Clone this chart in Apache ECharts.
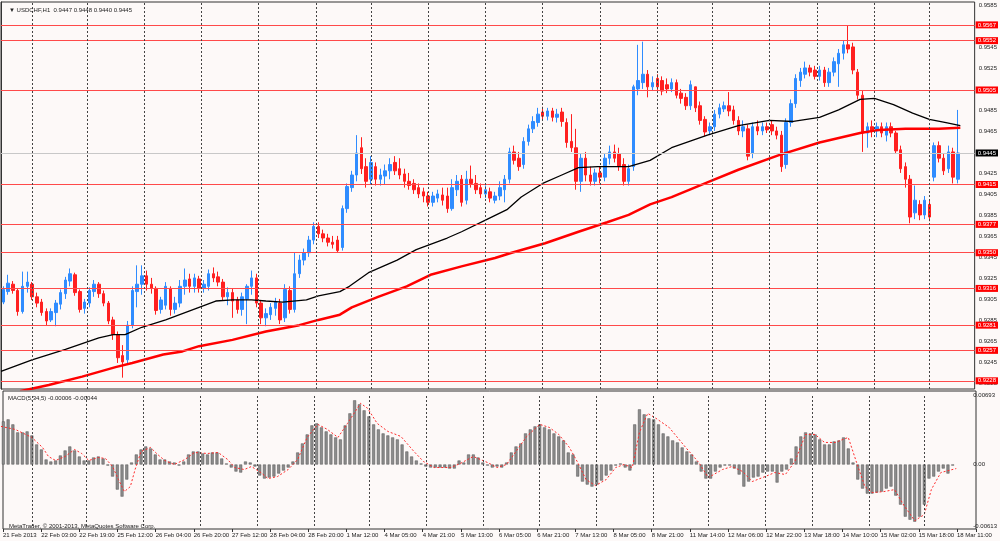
<!DOCTYPE html>
<html>
<head>
<meta charset="utf-8">
<script src="https://cdn.jsdelivr.net/npm/echarts@6.0.0/dist/echarts.min.js"></script>
<style>
html, body { margin: 0; padding: 0; background: #fdf9f8; }
#chart { width: 1000px; height: 541px; }
</style>
</head>
<body>
<div id="chart"></div>
<script>
// USDCHF H1, 21 Feb - 18 Mar 2013 (one candle = 2 hourly bars)
var timeLabels = ['21 Feb 2013', '22 Feb 03:00', '22 Feb 19:00', '25 Feb 12:00', '26 Feb 04:00', '26 Feb 20:00',
    '27 Feb 12:00', '28 Feb 04:00', '28 Feb 20:00', '1 Mar 12:00', '4 Mar 05:00', '4 Mar 21:00', '5 Mar 13:00',
    '6 Mar 05:00', '6 Mar 21:00', '7 Mar 13:00', '8 Mar 05:00', '8 Mar 21:00', '11 Mar 14:00', '12 Mar 06:00',
    '12 Mar 22:00', '13 Mar 18:00', '14 Mar 10:00', '15 Mar 02:00', '15 Mar 18:00', '18 Mar 11:00'];
// bar index where each day starts (vertical grid)
var dayStartBars = [13, 36, 60, 84, 108, 132, 155, 179, 203, 227, 251, 275, 298, 322, 342, 366, 389];
var lastBar = [0.9447, 0.9448, 0.9440, 0.9445];
var macdNow = [-0.00006, -0.00044];
var macdRange = [-0.00613, 0.00693];
var levels = [0.9567, 0.9552, 0.9505, 0.9415, 0.9377, 0.9350, 0.9316, 0.9281, 0.9257, 0.9228];

// [open, close, low, high]
var candles = [
    [0.9303,0.9315,0.9301,0.9318],[0.9313,0.9321,0.9310,0.9329],[0.9320,0.9314,0.9311,0.9323],[0.9314,0.9294,0.9290,0.9316],
    [0.9294,0.9318,0.9292,0.9332],[0.9318,0.9322,0.9312,0.9332],[0.9320,0.9308,0.9305,0.9322],[0.9308,0.9302,0.9298,0.9312],
    [0.9303,0.9293,0.9290,0.9306],[0.9294,0.9285,0.9281,0.9297],[0.9286,0.9294,0.9284,0.9297],[0.9293,0.9302,0.9280,0.9305],
    [0.9301,0.9312,0.9296,0.9315],[0.9311,0.9324,0.9306,0.9327],[0.9323,0.9330,0.9318,0.9335],[0.9329,0.9312,0.9309,0.9331],
    [0.9313,0.9296,0.9293,0.9315],[0.9297,0.9303,0.9292,0.9306],[0.9302,0.9314,0.9298,0.9317],[0.9313,0.9320,0.9308,0.9324],
    [0.9320,0.9311,0.9307,0.9322],[0.9311,0.9302,0.9299,0.9314],[0.9302,0.9285,0.9282,0.9304],[0.9286,0.9272,0.9267,0.9289],
    [0.9272,0.9250,0.9245,0.9275],[0.9252,0.9246,0.9231,0.9262],[0.9248,0.9281,0.9244,0.9285],[0.9281,0.9314,0.9278,0.9318],
    [0.9313,0.9320,0.9298,0.9338],[0.9320,0.9328,0.9310,0.9338],[0.9328,0.9320,0.9314,0.9333],[0.9320,0.9316,0.9311,0.9326],
    [0.9316,0.9295,0.9291,0.9318],[0.9296,0.9305,0.9292,0.9308],[0.9300,0.9318,0.9296,0.9322],[0.9316,0.9296,0.9290,0.9318],
    [0.9296,0.9302,0.9292,0.9308],[0.9302,0.9318,0.9298,0.9324],[0.9318,0.9324,0.9310,0.9335],[0.9325,0.9318,0.9312,0.9330],
    [0.9318,0.9326,0.9312,0.9330],[0.9325,0.9316,0.9312,0.9328],[0.9316,0.9320,0.9312,0.9324],[0.9318,0.9330,0.9314,0.9334],
    [0.9330,0.9326,0.9322,0.9336],[0.9327,0.9322,0.9318,0.9332],[0.9322,0.9308,0.9304,0.9325],[0.9308,0.9312,0.9300,0.9317],
    [0.9312,0.9304,0.9288,0.9316],[0.9305,0.9296,0.9292,0.9308],[0.9296,0.9308,0.9290,0.9312],[0.9306,0.9318,0.9282,0.9320],
    [0.9318,0.9326,0.9310,0.9333],[0.9326,0.9302,0.9298,0.9330],[0.9302,0.9288,0.9282,0.9305],[0.9288,0.9292,0.9280,0.9297],
    [0.9291,0.9298,0.9286,0.9302],[0.9297,0.9303,0.9290,0.9307],[0.9302,0.9286,0.9282,0.9306],[0.9288,0.9315,0.9284,0.9320],
    [0.9314,0.9296,0.9292,0.9318],[0.9296,0.9330,0.9293,0.9350],[0.9330,0.9343,0.9326,0.9348],[0.9343,0.9350,0.9338,0.9354],
    [0.9350,0.9362,0.9346,0.9366],[0.9362,0.9375,0.9358,0.9379],[0.9375,0.9368,0.9364,0.9379],[0.9368,0.9364,0.9360,0.9372],
    [0.9364,0.9360,0.9356,0.9368],[0.9360,0.9358,0.9354,0.9366],[0.9362,0.9352,0.9350,0.9366],[0.9355,0.9392,0.9352,0.9395],
    [0.9392,0.9413,0.9388,0.9416],[0.9412,0.9424,0.9408,0.9428],[0.9424,0.9445,0.9418,0.9462],[0.9450,0.9430,0.9425,0.9460],
    [0.9432,0.9418,0.9412,0.9440],[0.9420,0.9436,0.9415,0.9442],[0.9432,0.9420,0.9414,0.9436],[0.9420,0.9424,0.9414,0.9430],
    [0.9423,0.9428,0.9415,0.9434],[0.9428,0.9434,0.9420,0.9440],[0.9436,0.9428,0.9424,0.9442],[0.9430,0.9424,0.9420,0.9440],
    [0.9425,0.9418,0.9412,0.9430],[0.9418,0.9414,0.9410,0.9426],[0.9416,0.9410,0.9406,0.9420],[0.9412,0.9406,0.9402,0.9416],
    [0.9408,0.9404,0.9398,0.9412],[0.9404,0.9398,0.9394,0.9408],[0.9398,0.9404,0.9394,0.9408],[0.9402,0.9406,0.9398,0.9410],
    [0.9405,0.9400,0.9395,0.9412],[0.9404,0.9392,0.9388,0.9412],[0.9392,0.9412,0.9390,0.9420],[0.9410,0.9418,0.9404,0.9424],
    [0.9420,0.9398,0.9394,0.9424],[0.9400,0.9420,0.9396,0.9428],[0.9420,0.9416,0.9412,0.9433],[0.9416,0.9410,0.9406,0.9424],
    [0.9412,0.9406,0.9402,0.9416],[0.9406,0.9410,0.9402,0.9414],[0.9408,0.9402,0.9398,0.9412],[0.9400,0.9404,0.9397,0.9408],
    [0.9404,0.9412,0.9400,0.9418],[0.9410,0.9420,0.9398,0.9424],[0.9420,0.9446,0.9416,0.9450],[0.9446,0.9438,0.9434,0.9452],
    [0.9440,0.9432,0.9428,0.9446],[0.9434,0.9456,0.9430,0.9460],[0.9456,0.9468,0.9452,0.9472],[0.9468,0.9475,0.9464,0.9480],
    [0.9474,0.9482,0.9470,0.9488],[0.9484,0.9480,0.9476,0.9489],[0.9480,0.9485,0.9476,0.9488],[0.9485,0.9479,0.9475,0.9488],
    [0.9479,0.9482,0.9474,0.9487],[0.9484,0.9475,0.9470,0.9488],[0.9474,0.9455,0.9450,0.9478],[0.9456,0.9450,0.9446,0.9482],
    [0.9450,0.9418,0.9410,0.9468],[0.9418,0.9440,0.9408,0.9444],[0.9440,0.9424,0.9418,0.9446],[0.9424,0.9418,0.9414,0.9432],
    [0.9418,0.9426,0.9414,0.9430],[0.9426,0.9422,0.9416,0.9432],[0.9422,0.9440,0.9418,0.9444],[0.9440,0.9446,0.9434,0.9452],
    [0.9446,0.9440,0.9436,0.9453],[0.9444,0.9432,0.9428,0.9450],[0.9434,0.9418,0.9414,0.9440],[0.9418,0.9430,0.9414,0.9434],
    [0.9432,0.9508,0.9428,0.9510],[0.9506,0.9514,0.9500,0.9548],[0.9512,0.9520,0.9506,0.9551],[0.9520,0.9508,0.9498,0.9524],
    [0.9508,0.9512,0.9504,0.9518],[0.9516,0.9508,0.9502,0.9520],[0.9514,0.9504,0.9500,0.9518],[0.9510,0.9506,0.9502,0.9516],
    [0.9506,0.9512,0.9503,0.9516],[0.9512,0.9500,0.9497,0.9515],[0.9502,0.9497,0.9492,0.9506],[0.9498,0.9490,0.9486,0.9502],
    [0.9490,0.9510,0.9486,0.9514],[0.9508,0.9488,0.9484,0.9506],[0.9490,0.9476,0.9472,0.9494],[0.9477,0.9465,0.9461,0.9480],
    [0.9466,0.9470,0.9462,0.9474],[0.9470,0.9482,0.9466,0.9486],[0.9482,0.9488,0.9478,0.9492],[0.9487,0.9490,0.9484,0.9494],
    [0.9490,0.9485,0.9480,0.9503],[0.9486,0.9476,0.9472,0.9490],[0.9476,0.9466,0.9462,0.9480],[0.9466,0.9470,0.9460,0.9476],
    [0.9468,0.9442,0.9438,0.9472],[0.9445,0.9470,0.9440,0.9474],[0.9470,0.9466,0.9462,0.9476],[0.9466,0.9470,0.9462,0.9474],
    [0.9470,0.9467,0.9464,0.9474],[0.9472,0.9466,0.9462,0.9476],[0.9466,0.9462,0.9458,0.9470],[0.9462,0.9432,0.9427,0.9466],
    [0.9434,0.9474,0.9430,0.9478],[0.9474,0.9492,0.9470,0.9496],[0.9492,0.9516,0.9488,0.9520],[0.9514,0.9522,0.9508,0.9526],
    [0.9520,0.9526,0.9516,0.9532],[0.9526,0.9522,0.9518,0.9529],[0.9524,0.9518,0.9515,0.9528],[0.9518,0.9524,0.9514,0.9528],
    [0.9524,0.9512,0.9508,0.9527],[0.9512,0.9522,0.9508,0.9526],[0.9522,0.9532,0.9518,0.9536],[0.9530,0.9540,0.9508,0.9544],
    [0.9540,0.9548,0.9534,0.9552],[0.9548,0.9544,0.9540,0.9566],[0.9546,0.9524,0.9520,0.9550],[0.9522,0.9500,0.9496,0.9525],
    [0.9500,0.9464,0.9446,0.9504],[0.9464,0.9470,0.9450,0.9474],[0.9470,0.9466,0.9460,0.9476],[0.9466,0.9470,0.9460,0.9474],
    [0.9470,0.9464,0.9460,0.9474],[0.9462,0.9470,0.9456,0.9474],[0.9470,0.9464,0.9460,0.9474],[0.9464,0.9447,0.9444,0.9466],
    [0.9448,0.9430,0.9426,0.9452],[0.9432,0.9420,0.9412,0.9436],[0.9420,0.9384,0.9378,0.9424],[0.9388,0.9400,0.9382,0.9414],
    [0.9396,0.9386,0.9381,0.9400],[0.9386,0.9400,0.9382,0.9404],[0.9396,0.9384,0.9380,0.9400],[0.9422,0.9452,0.9418,0.9455],
    [0.9452,0.9440,0.9436,0.9456],[0.9440,0.9428,0.9424,0.9444],[0.9430,0.9446,0.9426,0.9452],[0.9446,0.9422,0.9416,0.9450],
    [0.9420,0.9445,0.9416,0.9486]
];

// moving averages, [bar, price]
var blackMA = [[0,0.9237],[13,0.9248],[27,0.9258],[41,0.9269],[47,0.9272],[52,0.9272],[59,0.9279],[69,0.9286],
    [83,0.9298],[90,0.9304],[97,0.9305],[105,0.9305],[111,0.9304],[118,0.9303],[128,0.9305],[133,0.9309],
    [142,0.9313],[146,0.9318],[154,0.9331],[166,0.9343],[174,0.9353],[187,0.9364],[193,0.9370],[203,0.9381],
    [212,0.9391],[218,0.9403],[227,0.9416],[235,0.9424],[242,0.9431],[250,0.9432],[255,0.9432],[263,0.9432],
    [272,0.9438],[281,0.9450],[296,0.9462],[309,0.9471],[322,0.9476],[332,0.9475],[343,0.9479],[351,0.9486],
    [360,0.9496],[366,0.9497],[374,0.9491],[382,0.9483],[389,0.9477],[396,0.9474],[402,0.9471]];
var redMA = [[8,0.9218],[20,0.9224],[34,0.9232],[48,0.9241],[55,0.9245],[68,0.9253],[76,0.9256],[83,0.9261],
    [97,0.9267],[111,0.9275],[125,0.9281],[133,0.9286],[142,0.9291],[147,0.9298],[158,0.9308],[170,0.9318],
    [180,0.9329],[193,0.9337],[207,0.9345],[214,0.9350],[228,0.9359],[242,0.9370],[254,0.9379],[263,0.9386],
    [272,0.9396],[281,0.9403],[296,0.9417],[309,0.9429],[326,0.9443],[343,0.9455],[360,0.9464],[368,0.9467],
    [379,0.9468],[393,0.9468],[402,0.9469]];

// MACD(5,34,5) histogram, one value per candle
var macdHist = [0.0043,0.0045,0.0040,0.0032,0.0032,0.0033,0.0029,0.0020,0.0015,0.0005,
    0.0003,0.0004,0.0009,0.0014,0.0018,0.0014,0.0008,0.0004,0.0004,0.0007,
    0.0008,0.0006,-0.0001,-0.0012,-0.0025,-0.0032,-0.0015,0.0002,0.0010,0.0015,
    0.0018,0.0016,0.0010,0.0005,0.0005,0.0003,0.0002,-0.0001,0.0003,0.0010,
    0.0013,0.0013,0.0011,0.0010,0.0012,0.0012,0.0006,0.0001,-0.0003,-0.0007,
    -0.0008,0.0003,0.0002,-0.0002,-0.0011,-0.0014,-0.0013,-0.0012,-0.0009,-0.0006,
    -0.0003,0.0003,0.0012,0.0021,0.0030,0.0039,0.0041,0.0037,0.0033,0.0030,
    0.0027,0.0025,0.0039,0.0051,0.0064,0.0060,0.0054,0.0048,0.0040,0.0035,
    0.0031,0.0029,0.0027,0.0025,0.0020,0.0013,0.0008,0.0004,0.0001,-0.0002,
    -0.0003,-0.0003,-0.0003,-0.0003,-0.0004,-0.0004,0.0004,0.0002,0.0010,0.0010,
    0.0007,0.0002,-0.0001,-0.0003,-0.0002,-0.0003,0.0002,0.0012,0.0018,0.0021,
    0.0031,0.0035,0.0038,0.0040,0.0037,0.0035,0.0031,0.0028,0.0024,0.0012,
    0.0010,-0.0012,-0.0017,-0.0020,-0.0022,-0.0020,-0.0016,-0.0011,-0.0006,-0.0001,
    0.0001,-0.0003,-0.0006,0.0040,0.0055,0.0050,0.0046,0.0045,0.0040,0.0031,
    0.0028,0.0024,0.0022,0.0017,0.0013,0.0010,0.0003,-0.0007,-0.0014,-0.0014,
    -0.0007,-0.0003,-0.0001,-0.0001,-0.0004,-0.0010,-0.0022,-0.0017,-0.0013,-0.0012,
    -0.0008,-0.0007,-0.0007,-0.0018,-0.0007,-0.0005,0.0006,0.0018,0.0028,0.0032,
    0.0031,0.0030,0.0025,0.0020,0.0020,0.0023,0.0024,0.0027,0.0016,0.0002,
    -0.0015,-0.0024,-0.0029,-0.0029,-0.0028,-0.0027,-0.0024,-0.0022,-0.0031,-0.0040,
    -0.0052,-0.0055,-0.0057,-0.0052,-0.0040,-0.0014,-0.0012,-0.0007,-0.0004,-0.0009,
    -0.0001];
// signal line, [bar, value]
var macdSignal = [[0,0.0038],[6,0.0035],[13,0.0027],[17.5,0.0017],[20,0.0008],[23,0.0004],[27,0.0008],[31,0.0015],
    [34,0.0011],[37,0.0004],[41,0.0007],[44,0.0006],[47,-0.0002],[49.5,-0.0015],[52,-0.0027],[54.5,-0.0022],
    [56.5,-0.0005],[59,0.0013],[63,0.0017],[66,0.0010],[69,0.0004],[73,0],[77.5,0.0005],[81.5,0.0012],
    [87,0.0011],[91.5,0.0012],[95.5,0.0005],[98.5,-0.0003],[102.5,-0.0005],[105.5,-0.0002],[109.5,-0.0008],
    [112.5,-0.0014],[116.5,-0.0012],[121,-0.0005],[125,0.0005],[129,0.0027],[133.5,0.0040],[137.5,0.0035],
    [142,0.0027],[146,0.0041],[151.5,0.0061],[154.5,0.0056],[158.5,0.0041],[163,0.0033],[168.5,0.0028],
    [174,0.0013],[178,0.0003],[182.5,-0.0003],[189.5,-0.0003],[193.5,0.0001],[199,0.0008],[205,0.0002],
    [209,-0.0003],[213,0],[217,0.0013],[221.5,0.0028],[227,0.0040],[231,0.0037],[235,0.0030],[239.5,0.0017],
    [243,0.0002],[246.5,-0.0015],[250.5,-0.0021],[255,-0.0015],[259,-0.0003],[262.5,0],[266,-0.0003],
    [269,0.0032],[272.5,0.0051],[276,0.0046],[281.5,0.0037],[288.5,0.0017],[294,0.0002],[298,-0.0013],
    [304,-0.0005],[308,-0.0002],[312.5,-0.0007],[316.5,-0.0017],[322,-0.0012],[326,-0.0008],[330.5,-0.0010],
    [334.5,0.0003],[339,0.0030],[343,0.0030],[347,0.0022],[351.5,0.0022],[357,0.0027],[360.5,0.0002],
    [364,-0.0022],[367,-0.0028],[372,-0.0027],[376.5,-0.0025],[380.5,-0.0041],[385,-0.0056],[389,-0.0050],
    [392,-0.0025],[396,-0.0008],[402.5,-0.0004]];

var totalBars = 408;
var cats = [];
for (var i = 0; i < totalBars / 2; i++) { cats.push(i); }

var font = 'Liberation Sans';
var textStyle = { fontSize: 6, fontWeight: 'normal', color: '#222', fontFamily: font };

// 日线竖线
var dayLines = dayStartBars.map(function (b) { return { xAxis: b }; });
// 水平价位线
var levelLines = levels.map(function (v) {
    return { yAxis: v, label: { formatter: v.toFixed(4) } };
});
levelLines.push({
    yAxis: lastBar[3],
    lineStyle: { color: '#c8c8c8' },
    label: { formatter: lastBar[3].toFixed(4), backgroundColor: '#000' }
});
var dayLineMark = {
    silent: true, symbol: ['none', 'none'], animation: false, precision: 4,
    lineStyle: { color: '#444', type: [2, 2], width: 1 },
    label: { show: false },
    data: dayLines
};

var chart = echarts.init(document.getElementById('chart'));
var option = {
    backgroundColor: '#fdf9f8',
    animation: false,
    title: [
        { text: '\u25BC USDCHF,H1  ' + lastBar.map(function (v) { return v.toFixed(4); }).join(' '),
          left: 4, top: 2, textStyle: textStyle },
        { text: 'MACD(5,34,5) ' + macdNow[0].toFixed(5) + ' ' + macdNow[1].toFixed(5),
          left: 3, top: 390, textStyle: textStyle },
        { text: 'MetaTrader, \u00A9 2001-2013, MetaQuotes Software Corp.',
          left: 4, top: 518, textStyle: textStyle }
    ],
    grid: [
        { left: 1, right: 24, top: 2, height: 387, show: true, borderColor: '#333', borderWidth: 1, backgroundColor: 'transparent' },
        { left: 1, right: 24, top: 395, height: 131 },
        { left: 1, right: 24, top: 391, height: 138, show: true, borderColor: '#333', borderWidth: 1, backgroundColor: 'transparent' }
    ],
    xAxis: [
        { type: 'category', gridIndex: 0, data: cats, show: false },
        { type: 'value', gridIndex: 0, min: 0, max: totalBars, show: false },
        { type: 'category', gridIndex: 1, data: cats, show: false },
        { type: 'value', gridIndex: 1, min: 0, max: totalBars, show: false },
        {
            type: 'value', gridIndex: 2, min: 0, max: totalBars, interval: 16, position: 'bottom',
            axisLine: { show: false },
            axisTick: { show: true, length: 3, lineStyle: { color: '#333' } },
            splitLine: { show: false },
            axisLabel: {
                align: 'left', margin: 3, fontSize: 6, color: '#222', fontFamily: font,
                formatter: function (v) {
                    var n = Math.round(v);
                    return n % 16 === 0 && timeLabels[n / 16] ? timeLabels[n / 16] : '';
                }
            }
        }
    ],
    yAxis: [
        {
            type: 'value', gridIndex: 0, position: 'right', min: 0.92202, max: 0.95888, interval: 0.0005,
            splitLine: { show: false },
            axisLine: { show: true, lineStyle: { color: '#333' } },
            axisTick: { show: false },
            axisLabel: {
                margin: 4, fontSize: 6, color: '#222', fontFamily: font,
                formatter: function (v) {
                    var p = Math.round(v * 10000);
                    return p % 20 === 5 ? (p / 10000).toFixed(4) : '';
                }
            }
        },
        {
            type: 'value', gridIndex: 1, position: 'right', min: macdRange[0], max: macdRange[1], interval: -macdRange[0],
            splitLine: { show: false },
            axisLine: { show: false },
            axisTick: { show: false },
            axisLabel: {
                margin: 4, fontSize: 6, color: '#222', fontFamily: font,
                formatter: function (v) {
                    if (Math.abs(v) < 1e-9) return '0.00';
                    if (Math.abs(v - macdRange[0]) < 1e-7 || Math.abs(v - macdRange[1]) < 1e-7) return v.toFixed(5);
                    return '';
                }
            }
        },
        { type: 'value', gridIndex: 2, min: 0, max: 1, show: false }
    ],
    series: [
        {
            type: 'candlestick', xAxisIndex: 0, yAxisIndex: 0, data: candles, barWidth: 3, z: 2,
            itemStyle: {
                color: '#2f8cff', color0: '#ff2020',
                borderColor: '#2f8cff', borderColor0: '#ff2020', borderWidth: 1
            }
        },
        {
            type: 'line', xAxisIndex: 1, yAxisIndex: 0, data: redMA, showSymbol: false, z: 3,
            lineStyle: { color: '#ff0000', width: 2.5 },
            markLine: {
                silent: true, symbol: ['none', 'none'], animation: false, precision: 4,
                lineStyle: { color: '#ff4a4a', type: 'solid', width: 1 },
                label: {
                    show: true, position: 'end', distance: 1, color: '#fff', backgroundColor: '#ff0000',
                    padding: [1, 2, 0, 2], fontSize: 6, fontFamily: font
                },
                data: levelLines
            }
        },
        {
            type: 'line', xAxisIndex: 1, yAxisIndex: 0, data: blackMA, showSymbol: false, z: 3,
            lineStyle: { color: '#000', width: 1.3 },
            markLine: dayLineMark
        },
        {
            type: 'bar', xAxisIndex: 2, yAxisIndex: 1, data: macdHist, barWidth: 3, z: 2,
            itemStyle: { color: '#8c8c8c', borderColor: '#555', borderWidth: 0.5 }
        },
        {
            type: 'line', xAxisIndex: 3, yAxisIndex: 1, data: macdSignal, showSymbol: false, z: 3,
            lineStyle: { color: '#ff2a2a', width: 1, type: [2, 2] },
            markLine: dayLineMark
        }
    ]
};
chart.setOption(option);
</script>
</body>
</html>
